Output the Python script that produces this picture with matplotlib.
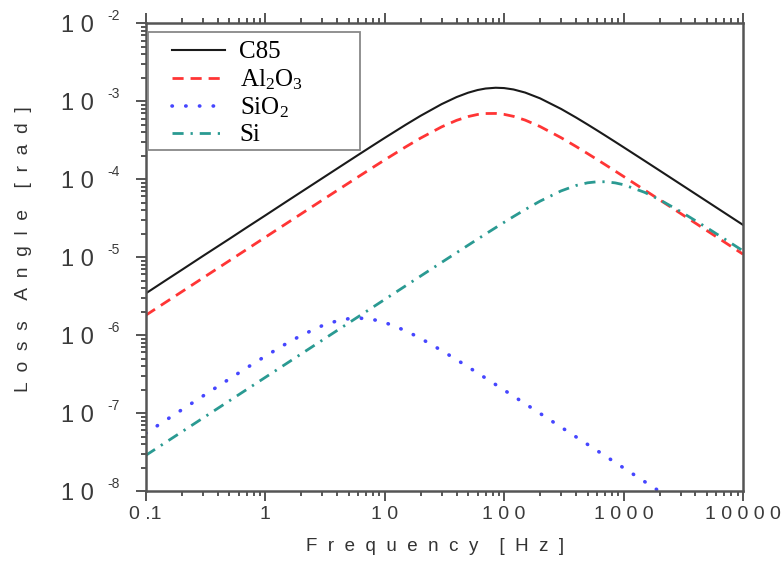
import numpy as np
import matplotlib.pyplot as plt
from matplotlib.patches import Rectangle
from matplotlib.ticker import FixedLocator, LogLocator, NullFormatter

plt.rcParams['font.family'] = ['Liberation Sans', 'DejaVu Sans']
plt.rcParams['mathtext.fontset'] = 'custom'
plt.rcParams['mathtext.rm'] = 'Liberation Serif'
plt.rcParams['mathtext.it'] = 'Liberation Serif:italic'
plt.rcParams['mathtext.sf'] = 'Liberation Sans'

# values (Hz, rad)
freq = [0.1, 0.15, 0.2, 0.3, 0.5, 0.7, 1, 1.5, 2, 3, 4, 5, 6, 7, 8, 10, 15, 20, 30, 40,
        50, 60, 70, 85, 100, 120, 150, 200, 300, 400, 500, 600, 700, 850, 1000, 1500,
        2000, 3000, 5000, 7000, 10000]
c85 = [3.42e-6, 5.14e-6, 6.85e-6, 1.03e-5, 1.71e-5, 2.40e-5, 3.42e-5, 5.14e-5, 6.85e-5,
       1.026e-4, 1.367e-4, 1.707e-4, 2.046e-4, 2.382e-4, 2.717e-4, 3.381e-4, 4.990e-4,
       6.507e-4, 9.184e-4, 1.131e-3, 1.287e-3, 1.393e-3, 1.456e-3, 1.490e-3, 1.476e-3,
       1.416e-3, 1.293e-3, 1.090e-3, 7.972e-4, 6.189e-4, 5.033e-4, 4.232e-4, 3.647e-4,
       3.019e-4, 2.573e-4, 1.723e-4, 1.294e-4, 8.634e-5, 5.184e-5, 3.703e-5, 2.593e-5]
al2o3 = [1.795e-6, 2.692e-6, 3.590e-6, 5.385e-6, 8.974e-6, 1.256e-5, 1.795e-5, 2.691e-5,
         3.588e-5, 5.377e-5, 7.161e-5, 8.937e-5, 1.071e-4, 1.246e-4, 1.421e-4, 1.766e-4,
         2.596e-4, 3.368e-4, 4.691e-4, 5.685e-4, 6.361e-4, 6.766e-4, 6.959e-4, 6.974e-4,
         6.789e-4, 6.397e-4, 5.731e-4, 4.739e-4, 3.410e-4, 2.630e-4, 2.132e-4, 1.790e-4,
         1.541e-4, 1.274e-4, 1.085e-4, 7.260e-5, 5.452e-5, 3.638e-5, 2.184e-5, 1.560e-5,
         1.092e-5]
sio2 = [5.498e-8, 8.245e-8, 1.099e-7, 1.646e-7, 2.731e-7, 3.798e-7, 5.351e-7, 7.765e-7,
        9.900e-7, 1.320e-6, 1.523e-6, 1.623e-6, 1.650e-6, 1.631e-6, 1.584e-6, 1.456e-6,
        1.138e-6, 9.083e-7, 6.346e-7, 4.841e-7, 3.904e-7, 3.267e-7, 2.808e-7, 2.318e-7,
        1.973e-7, 1.646e-7, 1.318e-7, 9.891e-8, 6.597e-8, 4.949e-8, 3.959e-8, 3.300e-8,
        2.828e-8, 2.329e-8, 1.980e-8, 1.320e-8, 9.90e-9, 6.60e-9, 3.96e-9, 2.83e-9, 1.98e-9]
si = [2.862e-8, 4.292e-8, 5.723e-8, 8.585e-8, 1.431e-7, 2.003e-7, 2.862e-7, 4.292e-7,
      5.723e-7, 8.585e-7, 1.145e-6, 1.431e-6, 1.717e-6, 2.003e-6, 2.289e-6, 2.861e-6,
      4.290e-6, 5.718e-6, 8.566e-6, 1.140e-5, 1.422e-5, 1.702e-5, 1.980e-5, 2.391e-5,
      2.795e-5, 3.321e-5, 4.075e-5, 5.228e-5, 7.077e-5, 8.302e-5, 8.989e-5, 9.270e-5,
      9.275e-5, 8.975e-5, 8.499e-5, 6.786e-5, 5.468e-5, 3.849e-5, 2.378e-5, 1.712e-5,
      1.204e-5]

xticks = [0.1, 1, 10, 100, 1000, 10000]
xticklabels = ['0 .1', '1', '1 0', '1 0 0', '1 0 0 0', '1 0 0 0 0']
yticks = [1e-8, 1e-7, 1e-6, 1e-5, 1e-4, 1e-3, 1e-2]
yexps = ['-8', '-7', '-6', '-5', '-4', '-3', '-2']

fig = plt.figure(figsize=(7.81, 5.63), dpi=100)
ax = fig.add_axes([145.7/781, 1-491/563, 597.3/781, 467.7/563])

ax.plot(freq, c85, color='#1a1a1a', lw=1.5, label='C85')
ax.plot(freq, al2o3, color='#ff3535', lw=2, ls=(0, (4, 2.5)), label='Al$_2$O$_3$')
ax.plot(freq, sio2, color='#4646ff', lw=2.6, ls=(0, (0.1, 3.7)), dash_capstyle='round',
        label='SiO$_2$')
ax.plot(freq, si, color='#2a9a92', lw=2, ls=(0, (4, 2.5, 0.8, 2.5)), label='Si')

ax.set_xscale('log')
ax.set_yscale('log')
ax.set_xlim(0.1, 10000)
ax.set_ylim(1e-8, 1e-2)

ax.xaxis.set_major_locator(FixedLocator(xticks))
ax.set_xticklabels(xticklabels)
ax.yaxis.set_major_locator(FixedLocator(yticks))
ax.set_yticklabels(['1 0'] * len(yticks))
ax.xaxis.set_minor_locator(LogLocator(base=10, subs=np.arange(2, 10)))
ax.yaxis.set_minor_locator(LogLocator(base=10, subs=np.arange(2, 10)))
ax.xaxis.set_minor_formatter(NullFormatter())
ax.yaxis.set_minor_formatter(NullFormatter())

for s in ax.spines.values():
    s.set_color('#555555')
    s.set_linewidth(1.8)
ax.tick_params(which='both', direction='out', top=True, right=False, color='#555555', width=1.4)
ax.tick_params(which='major', length=7)
ax.tick_params(which='minor', length=3.6)
ax.tick_params(axis='x', which='major', labelsize=14, labelcolor='#3a3a3a', pad=4)
ax.tick_params(axis='y', which='major', labelsize=17, labelcolor='#3a3a3a', pad=30.5)

for v, e in zip(yticks, yexps):
    ax.annotate(e, xy=(0, v), xycoords=('axes fraction', 'data'), xytext=(-27.5, 5),
                textcoords='offset points', ha='left', va='center', fontsize=10,
                color='#3a3a3a')

ax.set_xlabel('F  r  e  q  u  e  n  c  y    [  H  z  ]', fontsize=13.5, color='#333333')
ax.xaxis.set_label_coords(0.484, -0.10)
ax.set_ylabel('L  o  s  s    A  n  g  l  e    [  r  a  d  ]', fontsize=13.8, color='#333333')
ax.yaxis.set_label_coords(-0.19, 0.517)

fig.patches.append(Rectangle((148/781, 1-150/563), 212/781, 118/563, transform=fig.transFigure,
                             fill=False, edgecolor='#888888', lw=1.3))
ax.legend(loc='upper left', bbox_to_anchor=(167/781, 1-36/563), bbox_transform=fig.transFigure,
          frameon=False, borderpad=0.2, borderaxespad=0, handlelength=2.1, handletextpad=0.6,
          labelspacing=0.15, prop={'family': 'Liberation Serif', 'size': 18})

fig.savefig('out.png', dpi=100)
